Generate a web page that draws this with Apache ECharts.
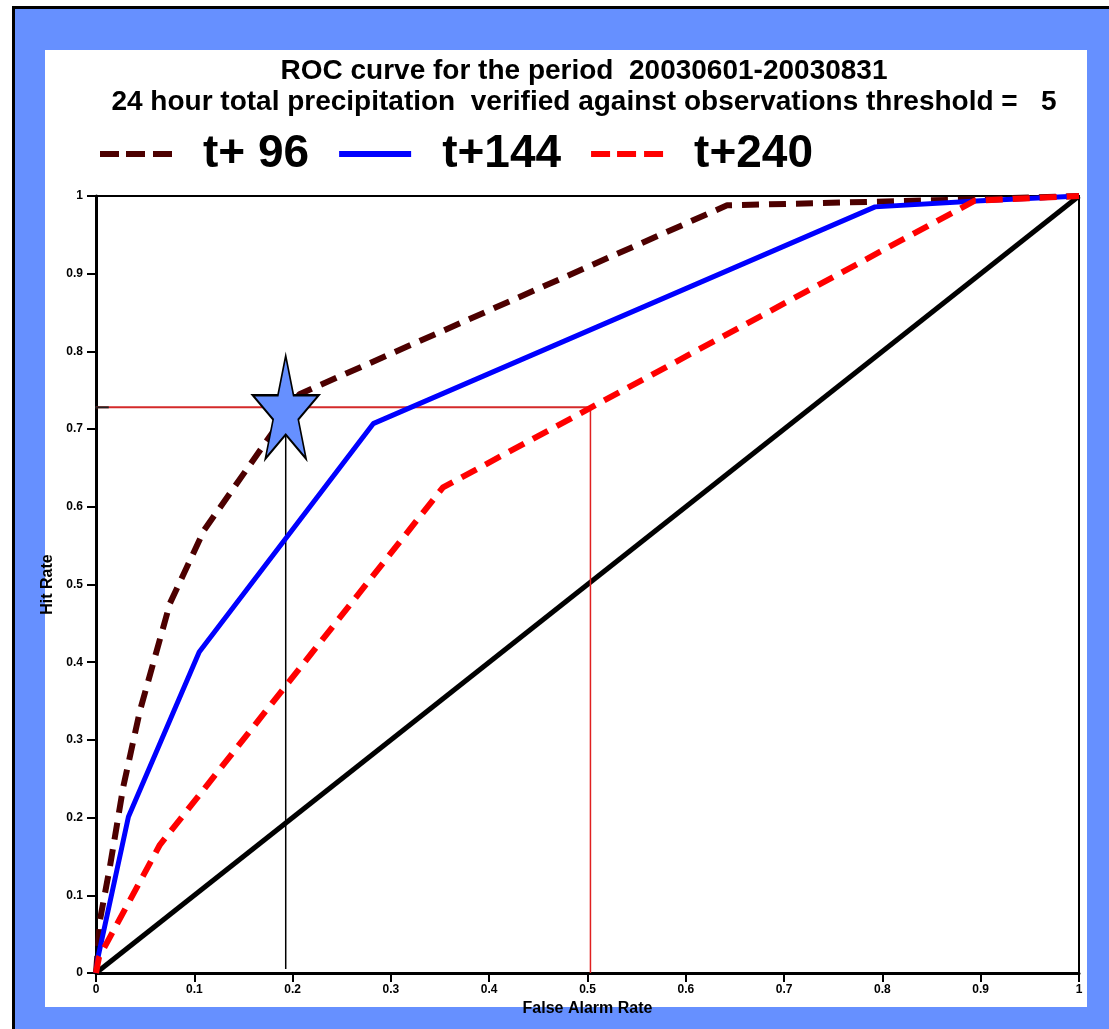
<!DOCTYPE html>
<html>
<head>
<meta charset="utf-8">
<script src="https://cdn.jsdelivr.net/npm/echarts@6/dist/echarts.min.js"></script>
<style>html,body{margin:0;padding:0;background:#fff}#c{width:1109px;height:1029px}</style>
</head>
<body>
<div id="c"></div>
<script>
// ---- data ----
const titleLines = ['ROC curve for the period  20030601-20030831',
  '24 hour total precipitation  verified against observations threshold =   5'];
const seriesNames = ['t+ 96', 't+144', 't+240'];
const far96 = [0, 0.004, 0.0142, 0.0278, 0.0448, 0.0753, 0.11, 0.207, 0.642, 0.9, 1];
const hit96 = [0, 0.068, 0.137, 0.24, 0.338, 0.476, 0.57, 0.745, 0.988, 0.996, 1];
const far144 = [0, 0.002, 0.033, 0.105, 0.282, 0.7925, 0.9, 1];
const hit144 = [0, 0.02, 0.201, 0.413, 0.707, 0.986, 0.994, 1];
const far240 = [0, 0.003, 0.065, 0.353, 0.894, 1];
const hit240 = [0, 0.02, 0.165, 0.625, 0.994, 1];
const diagFar = [0, 1];
const diagHit = [0, 1];
const chosenFar = 0.193;   // star point
const chosenHit = 0.728;
const refFar = 0.503;      // red reference
const refHit = 0.728;
const axisTicks = [0, 0.1, 0.2, 0.3, 0.4, 0.5, 0.6, 0.7, 0.8, 0.9, 1];

const zip = (a, b) => a.map((v, i) => [v, b[i]]);
const BLUEBG = '#6690FF';
const BROWN = '#4D0000';
const starPath = 'path://M0,-1 L0.2245,-0.309 L0.951,-0.309 L0.363,0.118 L0.588,0.809 L0,0.382 L-0.588,0.809 L-0.363,0.118 L-0.951,-0.309 L-0.2245,-0.309 Z';
const dashIcon = 'path://M0,0h19v6h-19z M26,0h19v6h-19z M53,0h19v6h-19z';
const solidIcon = 'path://M0,0h72v6h-72z';
const FONT = '"Liberation Sans", Arial, sans-serif';

const chart = echarts.init(document.getElementById('c'), null, {renderer: 'canvas'});
const axisCommon = {
  type: 'value', min: axisTicks[0], max: axisTicks[axisTicks.length - 1], interval: 0.1,
  axisLine: {show: true, lineStyle: {color: '#000', width: 3}},
  axisTick: {show: true, inside: false, length: 9, lineStyle: {color: '#000', width: 2}},
  splitLine: {show: false},
  axisLabel: {color: '#000', fontWeight: 'bold', fontSize: 12, fontFamily: FONT},
  nameLocation: 'middle',
  nameTextStyle: {color: '#000', fontWeight: 'bold', fontSize: 16, fontFamily: FONT}
};
chart.setOption({
  animation: false,
  backgroundColor: '#fff',
  graphic: [
    {type: 'rect', z: -10, silent: true, shape: {x: 13.5, y: 7.5, width: 1200, height: 1200},
      style: {fill: BLUEBG, stroke: '#000', lineWidth: 3}},
    {type: 'rect', z: -9, silent: true, shape: {x: 45, y: 50, width: 1042, height: 957},
      style: {fill: '#fff'}}
  ],
  title: {
    text: titleLines.join('\n'), left: 579, top: 51, textAlign: 'center',
    textStyle: {fontFamily: FONT, fontWeight: 'bold', fontSize: 28, lineHeight: 31, color: '#000'}
  },
  legend: {
    top: 126, left: 95, itemWidth: 72, itemHeight: 6, itemGap: 30,
    itemStyle: {borderWidth: 0},
    data: [
      {name: seriesNames[0], icon: dashIcon},
      {name: seriesNames[1], icon: solidIcon},
      {name: seriesNames[2], icon: dashIcon}
    ],
    textStyle: {fontFamily: FONT, fontWeight: 'bold', fontSize: 46, color: '#000', padding: [0, 0, 0, 26]}
  },
  grid: {left: 96, right: 30, top: 196, bottom: 56, show: true, borderColor: '#000', borderWidth: 2, backgroundColor: 'transparent'},
  xAxis: Object.assign({}, axisCommon, {name: 'False Alarm Rate', nameGap: 20, axisLabel: Object.assign({}, axisCommon.axisLabel, {margin: 11})}),
  yAxis: Object.assign({}, axisCommon, {name: 'Hit Rate', nameGap: 24, axisLabel: Object.assign({}, axisCommon.axisLabel, {margin: 13})}),
  series: [
    {type: 'line', name: 'diag', data: zip(diagFar, diagHit), symbol: 'none', silent: true,
      lineStyle: {color: '#000', width: 5}, z: 1},
    {type: 'line', name: 'refH', data: [[0, refHit], [refFar, refHit]], symbol: 'none', silent: true,
      lineStyle: {color: '#D42A2A', width: 2}, z: 1},
    {type: 'line', name: 'refV', data: [[refFar, refHit], [refFar, 0]], symbol: 'none', silent: true,
      lineStyle: {color: '#E02020', width: 1.5}, z: 1},
    {type: 'line', name: 'chosenV', data: [[chosenFar, chosenHit], [chosenFar, 0.005]], symbol: 'none', silent: true,
      lineStyle: {color: '#000', width: 1.5}, z: 1},
    {type: 'line', name: 'refTick', data: [[-0.004, refHit], [0.013, refHit]], symbol: 'none', silent: true, clip: false,
      lineStyle: {color: '#222', width: 2}, z: 1},
    {type: 'line', name: seriesNames[0], data: zip(far96, hit96), symbol: 'none', color: BROWN,
      lineStyle: {color: BROWN, width: 6, type: [17, 10]}, z: 3},
    {type: 'line', name: seriesNames[1], data: zip(far144, hit144), symbol: 'none', color: '#0000FF',
      lineStyle: {color: '#0000FF', width: 5}, z: 4},
    {type: 'line', name: seriesNames[2], data: zip(far240, hit240), symbol: 'none', color: '#FF0000',
      lineStyle: {color: '#FF0000', width: 6, type: [17, 10]}, z: 5},
    {type: 'scatter', name: 'star', data: [[chosenFar, chosenHit]], symbol: starPath, symbolSize: [66, 103],
      itemStyle: {color: BLUEBG, borderColor: '#000', borderWidth: 2, opacity: 1}, z: 10, silent: true}
  ]
});
</script>
</body>
</html>
